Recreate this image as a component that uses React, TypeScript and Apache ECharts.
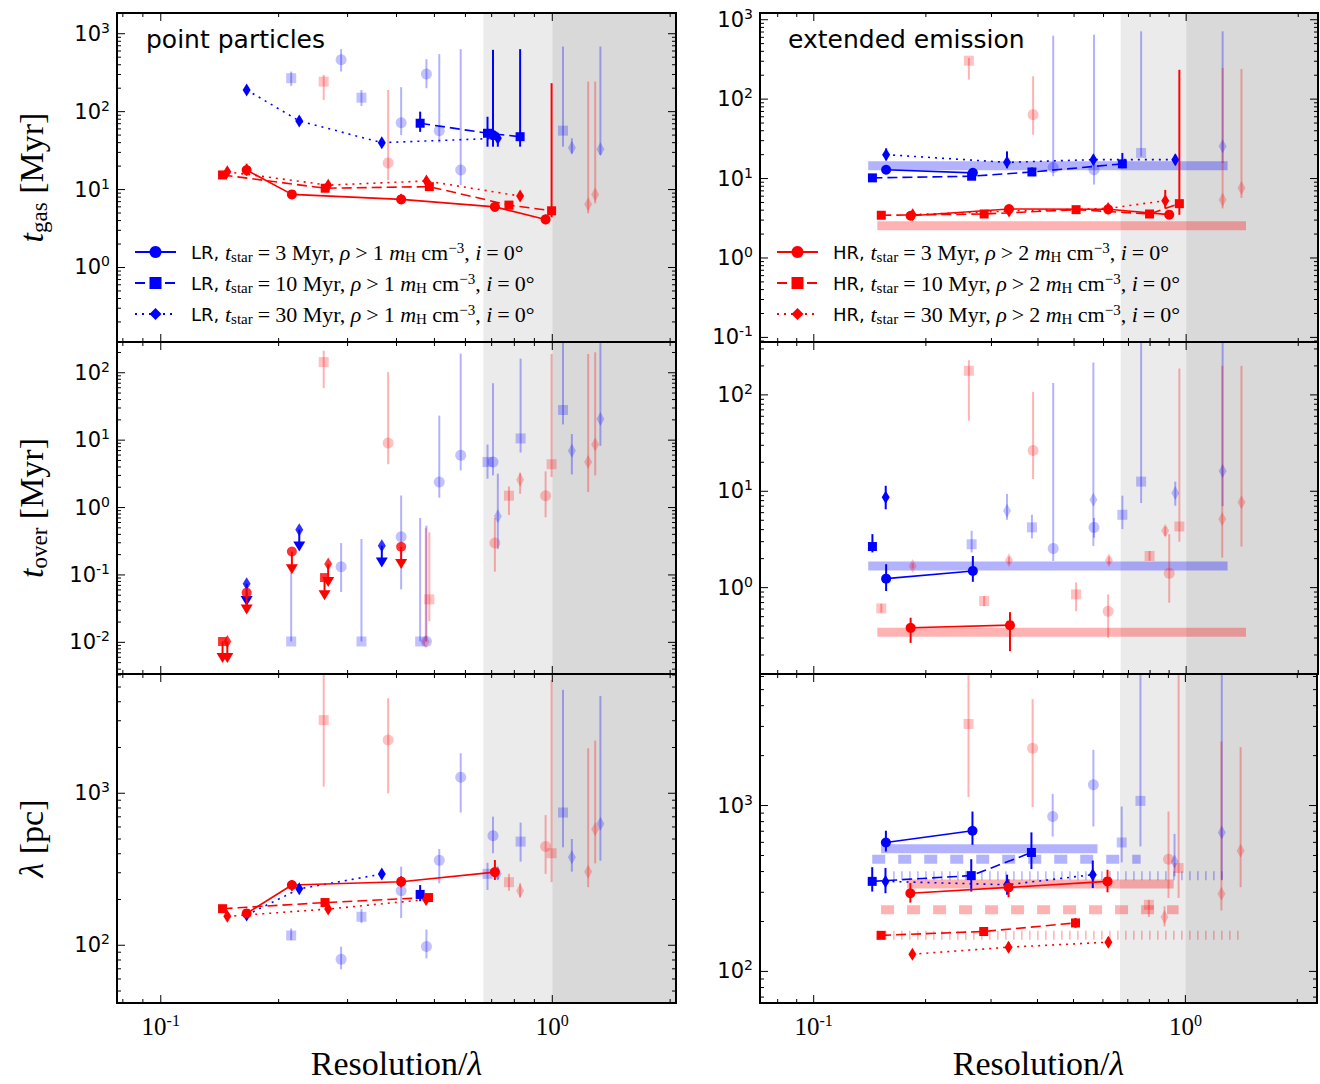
import React, { useEffect, useRef } from 'react';
import * as echarts from 'echarts';

type P = number[]; // [x, y, errLow, errHigh]

// ---------- axis ranges ----------
const X_LEFT = [0.0773, 2.07];
const X_RIGHT = [0.0717, 2.26];
const Y_GAS_PP = [0.1106, 1845];
const Y_GAS_EE = [0.0875, 1215];
const Y_OVER_PP = [0.00339, 286];
const Y_OVER_EE = [0.127, 354];
const Y_LAM_PP = [41.7, 6090];
const Y_LAM_EE = [64.5, 6210];
const SHADE_START = 0.667;
const SHADE_MID = 1.0;

// ---------- point particles : t_gas ----------
const ppGas_LR3: P[] = [[0.7055, 50, 35.5, 621]];
const ppGas_LR10: P[] = [[0.4597, 71, 55, 100], [0.6832, 52.8, 35.5, 86], [0.8276, 47.7, 35.5, 634]];
const ppGas_LR30: P[] = [[0.1657, 190, 175, 205], [0.2258, 76, 70, 83], [0.3669, 40, 37, 44], [0.7259, 45.5, 35.5, 50]];
const ppGas_HR3: P[] = [[0.1657, 17.8, 15, 21.5], [0.2162, 8.67, 7.6, 9.8], [0.4111, 7.48, 6.6, 8.8], [0.7135, 6.0, 5.2, 6.9], [0.9614, 4.14, 3.6, 4.8]];
const ppGas_HR10: P[] = [[0.1438, 15.4, 14, 16.5], [0.263, 10.4, 9.5, 11.5], [0.4852, 10.9, 10, 12], [0.775, 6.32, 5.8, 7], [0.9959, 5.34, 4.4, 232]];
const ppGas_HR30: P[] = [[0.1479, 16.9, 15.5, 18.5], [0.2677, 11.4, 10.3, 12.6], [0.477, 12.9, 11.5, 14.3], [0.8276, 8.25, 7.3, 9.3]];
const ppGasF_LR3: P[] = [[0.2888, 462, 327, 634], [0.4111, 72, 50, 206], [0.477, 305, 200, 471], [0.5144, 57, 40, 547], [0.5835, 17.8, 11.4, 634]];
const ppGasF_LR10: P[] = [[0.2153, 269, 214, 327], [0.3255, 151, 118, 190], [1.065, 57, 35.5, 685]];
const ppGasF_LR30: P[] = [[1.122, 34.5, 29, 45.5], [1.327, 32.9, 27.8, 685]];
const ppGasF_HR3: P[] = [[0.3808, 22, 13.2, 190]];
const ppGasF_HR10: P[] = [[0.2607, 243, 141, 296]];
const ppGasF_HR30: P[] = [[1.235, 6.5, 4.94, 243], [1.287, 8.67, 6.65, 243]];

// ---------- point particles : t_over ----------
// upper limits: [x, y, arrow tip]
const ppOverLim_HR3: P[] = [[0.1657, 0.0546, 0.0308], [0.2162, 0.223, 0.1216], [0.4111, 0.262, 0.145]];
const ppOverLim_HR10: P[] = [[0.1438, 0.0103, 0.00585], [0.262, 0.0914, 0.0498]];
const ppOverLim_HR30: P[] = [[0.1479, 0.0103, 0.00585], [0.2677, 0.145, 0.0787]];
const ppOverLim_LR30: P[] = [[0.1657, 0.0743, 0.041], [0.2258, 0.47, 0.265], [0.3669, 0.271, 0.153]];
const ppOverF_LR3: P[] = [[0.2888, 0.132, 0.0558, 0.297], [0.4111, 0.369, 0.0612, 1.51], [0.477, 0.0103, 0.0103, 0.539], [0.5144, 2.39, 1.4, 23.1], [0.5835, 5.97, 3.56, 192], [0.7055, 4.75, 3.0, 70]];
const ppOverF_LR10: P[] = [[0.2153, 0.0103, 0.0103, 0.108], [0.3255, 0.0103, 0.0103, 0.341], [0.4597, 0.0103, 0.0103, 0.7], [0.6832, 4.75, 2.68, 8.6], [0.83, 10.6, 6.55, 162], [1.065, 28, 17.1, 1000]];
const ppOverF_LR30: P[] = [[0.7259, 0.743, 0.242, 3.18], [1.122, 6.94, 3.1, 12.3], [1.327, 20.6, 8.25, 1000]];
const ppOverF_HR3: P[] = [[0.3808, 9.1, 4.39, 102], [0.7135, 0.297, 0.112, 0.7], [0.9614, 1.5, 0.718, 3.45]];
const ppOverF_HR10: P[] = [[0.2607, 144, 59, 213], [0.4852, 0.0434, 0.0206, 0.429], [0.775, 1.5, 0.778, 2.06], [0.9959, 4.39, 2.84, 190]];
const ppOverF_HR30: P[] = [[0.4752, 0.0103, 0.0103, 0.5], [0.8276, 2.59, 1.6, 3.3], [1.235, 4.75, 1.7, 190], [1.287, 8.6, 3.0, 201]];

// ---------- point particles : lambda ----------
const ppLam_LR10: P[] = [[0.4597, 216, 195, 249]];
const ppLam_LR30: P[] = [[0.1657, 158, 149, 168], [0.2258, 235, 220, 250], [0.3669, 294, 280, 310]];
const ppLam_HR3: P[] = [[0.1657, 162, 152, 172], [0.2162, 249, 228, 268], [0.4111, 262, 240, 285], [0.7135, 303, 269, 364]];
const ppLam_HR10: P[] = [[0.1438, 174, 165, 183], [0.2627, 191, 180, 203], [0.483, 206, 195, 218]];
const ppLam_HR30: P[] = [[0.1479, 155, 146, 164], [0.2677, 173, 163, 184], [0.476, 200, 188, 212]];
const ppLamF_LR3: P[] = [[0.2888, 81, 69.5, 98], [0.4111, 228, 151, 329], [0.477, 98, 82, 127], [0.5144, 363, 256, 430], [0.5835, 1274, 747, 1833], [0.7055, 526, 403, 702]];
const ppLamF_LR10: P[] = [[0.2153, 116, 108, 129], [0.3255, 154, 140, 173], [0.6832, 295, 231, 349], [0.83, 481, 355, 641], [1.065, 747, 441, 4790]];
const ppLamF_LR30: P[] = [[0.7259, 295, 270, 330], [1.122, 379, 305, 500], [1.327, 630, 360, 4370]];
const ppLamF_HR3: P[] = [[0.3808, 2242, 1000, 4220], [0.9614, 446, 295, 719]];
const ppLamF_HR10: P[] = [[0.2607, 3030, 1106, 8000], [0.775, 260, 228, 295], [0.9959, 403, 260, 5560]];
const ppLamF_HR30: P[] = [[0.8276, 228, 206, 256], [1.235, 305, 241, 1977], [1.287, 580, 346, 2219]];

// ---------- extended emission : t_gas ----------
const eeGas_LR3: P[] = [[0.1564, 12.9, 11.5, 14.5], [0.2674, 11.8, 10.3, 13.5]];
const eeGas_LR10: P[] = [[0.1437, 10.2, 9.4, 11.2], [0.2654, 10.7, 9.9, 11.8], [0.3853, 12.1, 10.8, 13.8], [0.674, 15.3, 13.5, 21]];
const eeGas_LR30: P[] = [[0.1564, 20, 17, 24], [0.3303, 16, 13.5, 22], [0.5634, 17.3, 15.5, 19.5], [0.935, 17.3, 15, 20]];
const eeGas_HR3: P[] = [[0.182, 3.4, 3.1, 3.75], [0.3344, 4.14, 3.8, 4.5], [0.6173, 4.1, 3.75, 4.5], [0.9007, 3.51, 3.1, 3.9]];
const eeGas_HR10: P[] = [[0.1518, 3.45, 3.2, 3.7], [0.2867, 3.58, 3.3, 3.9], [0.5063, 4.06, 3.75, 4.4], [0.7975, 3.58, 3.3, 3.9], [0.9589, 4.83, 3.5, 234]];
const eeGas_HR30: P[] = [[0.1843, 3.51, 3.25, 3.8], [0.3344, 3.9, 3.55, 4.3], [0.6173, 4.2, 3.85, 4.6], [0.8788, 5.27, 4.2, 7.2]];
const eeGasF_LR3: P[] = [[0.4395, 13.8, 10.7, 630], [0.5656, 12.9, 8.4, 649]];
const eeGasF_LR10: P[] = [[0.757, 21, 19, 714]];
const eeGasF_LR30: P[] = [[1.253, 25.5, 15.7, 714]];
const eeGasF_HR3: P[] = [[0.3881, 63.8, 35.7, 194]];
const eeGasF_HR10: P[] = [[0.2609, 305, 176, 330]];
const eeGasF_HR30: P[] = [[1.253, 5.42, 4.2, 247], [1.408, 7.61, 5.7, 240]];
// bands: [xStart, xEnd, value]
const eeGasBand_LR: P = [0.14, 1.292, 14.5];
const eeGasBand_HR: P = [0.1481, 1.448, 2.55];

// ---------- extended emission : t_over ----------
const eeOver_LR3: P[] = [[0.1564, 1.24, 0.922, 1.75], [0.2674, 1.49, 1.15, 2.13]];
const eeOver_LR10: P[] = [[0.1437, 2.67, 2.32, 3.59]];
const eeOver_LR30: P[] = [[0.156, 8.66, 6.5, 11.4]];
const eeOver_HR3: P[] = [[0.182, 0.383, 0.267, 0.487], [0.3364, 0.408, 0.219, 0.557]];
const eeOverF_LR3: P[] = [[0.4395, 2.55, 1.89, 133], [0.5656, 4.22, 3.3, 5.3]];
const eeOverF_LR10: P[] = [[0.2654, 2.82, 2.32, 3.89], [0.3853, 4.22, 3.24, 5.7], [0.674, 5.7, 4.05, 9.0], [0.757, 12.6, 7.55, 1000]];
const eeOverF_LR30: P[] = [[0.3303, 6.28, 5.06, 9.4], [0.5634, 8.18, 2.71, 217], [0.935, 9.6, 7.08, 12.6], [1.253, 16.2, 7.0, 1000]];
const eeOverF_HR3: P[] = [[0.3881, 26.5, 13.4, 107], [0.6173, 0.57, 0.301, 0.851], [0.9007, 1.41, 0.698, 3.59]];
const eeOverF_HR10: P[] = [[0.2609, 178, 54, 229], [0.1518, 0.609, 0.55, 0.68], [0.2867, 0.726, 0.64, 0.82], [0.5063, 0.851, 0.57, 1.13], [0.7975, 2.13, 1.9, 2.4], [0.9589, 4.31, 2.99, 188]];
const eeOverF_HR30: P[] = [[0.1843, 1.68, 1.58, 1.8], [0.3344, 1.92, 1.75, 2.1], [0.6205, 1.92, 1.75, 2.1], [0.8788, 3.89, 3.45, 4.3], [1.25, 5.14, 2.05, 200], [1.408, 7.67, 2.67, 200]];
const eeOverBand_LR: P = [0.14, 1.292, 1.68];
const eeOverBand_HR: P = [0.1481, 1.448, 0.345];

// ---------- extended emission : lambda ----------
const eeLam_LR3: P[] = [[0.1564, 599, 528, 705], [0.2674, 705, 580, 920]];
const eeLam_LR10: P[] = [[0.1437, 349, 303, 425], [0.2654, 378, 303, 475], [0.3853, 521, 414, 689]];
const eeLam_LR30: P[] = [[0.156, 349, 296, 420], [0.3314, 333, 290, 383], [0.5634, 383, 318, 466]];
const eeLam_HR3: P[] = [[0.182, 296, 260, 341], [0.3344, 321, 280, 360], [0.6173, 349, 300, 410]];
const eeLam_HR10: P[] = [[0.1518, 165, 158, 172], [0.2867, 174, 166, 182], [0.5063, 196, 183, 210]];
const eeLam_HR30: P[] = [[0.1843, 127, 120, 134], [0.3344, 140, 131, 150], [0.6205, 150, 140, 160]];
const eeLamF_LR3: P[] = [[0.4395, 859, 651, 1176], [0.5656, 1333, 748, 2167]];
const eeLamF_LR10: P[] = [[0.674, 599, 454, 986], [0.757, 1067, 567, 8000]];
const eeLamF_LR30: P[] = [[0.935, 460, 374, 675], [1.253, 689, 357, 8000]];
const eeLamF_HR3: P[] = [[0.3881, 2217, 977, 4376], [0.9007, 475, 277, 920]];
const eeLamF_HR10: P[] = [[0.2609, 3104, 1124, 8000], [0.7975, 252, 213, 270], [0.9589, 420, 277, 8000]];
const eeLamF_HR30: P[] = [[0.8788, 213, 187, 247], [1.25, 294, 233, 2432], [1.408, 533, 322, 2249]];
const eeLamBand_LR3: P = [0.1518, 0.58, 548];
const eeLamBand_LR10: P = [0.1437, 0.758, 475];
const eeLamBand_LR30: P = [0.1636, 1.262, 378];
const eeLamBand_HR3: P = [0.1784, 0.93, 336];
const eeLamBand_HR10: P = [0.1518, 0.9589, 235];
const eeLamBand_HR30: P = [0.1481, 1.408, 165];

// ---------- styling ----------
const BLUE = '#0000ff';
const RED = '#ff0000';
const FADE_BLUE = 'rgba(0,0,255,0.3)';
const FADE_RED = 'rgba(255,0,0,0.3)';
const SHADE_LIGHT = '#ebebeb';
const SHADE_DARK = '#d9d9d9';
const SERIF = 'Liberation Serif';
const SANS = 'DejaVu Sans';
const KEYS = ['LR3', 'LR10', 'LR30', 'HR3', 'HR10', 'HR30'];

const GRID_LEFT = [117, 760];
const GRID_WIDTH = [559, 558];
const GRID_TOP = [13, 342, 674];
const GRID_HEIGHT = [329, 332, 329];

interface PanelSpec {
  x: number[];
  y: number[];
  solid: Record<string, P[]>;
  faded: Record<string, P[]>;
  limits?: Record<string, P[]>;
  bands?: Record<string, P>;
}

const PANELS: PanelSpec[] = [
  {
    x: X_LEFT, y: Y_GAS_PP,
    solid: { LR3: ppGas_LR3, LR10: ppGas_LR10, LR30: ppGas_LR30, HR3: ppGas_HR3, HR10: ppGas_HR10, HR30: ppGas_HR30 },
    faded: { LR3: ppGasF_LR3, LR10: ppGasF_LR10, LR30: ppGasF_LR30, HR3: ppGasF_HR3, HR10: ppGasF_HR10, HR30: ppGasF_HR30 },
  },
  {
    x: X_RIGHT, y: Y_GAS_EE,
    solid: { LR3: eeGas_LR3, LR10: eeGas_LR10, LR30: eeGas_LR30, HR3: eeGas_HR3, HR10: eeGas_HR10, HR30: eeGas_HR30 },
    faded: { LR3: eeGasF_LR3, LR10: eeGasF_LR10, LR30: eeGasF_LR30, HR3: eeGasF_HR3, HR10: eeGasF_HR10, HR30: eeGasF_HR30 },
    bands: { LR3: eeGasBand_LR, HR3: eeGasBand_HR },
  },
  {
    x: X_LEFT, y: Y_OVER_PP,
    solid: {},
    faded: { LR3: ppOverF_LR3, LR10: ppOverF_LR10, LR30: ppOverF_LR30, HR3: ppOverF_HR3, HR10: ppOverF_HR10, HR30: ppOverF_HR30 },
    limits: { LR30: ppOverLim_LR30, HR3: ppOverLim_HR3, HR10: ppOverLim_HR10, HR30: ppOverLim_HR30 },
  },
  {
    x: X_RIGHT, y: Y_OVER_EE,
    solid: { LR3: eeOver_LR3, LR10: eeOver_LR10, LR30: eeOver_LR30, HR3: eeOver_HR3 },
    faded: { LR3: eeOverF_LR3, LR10: eeOverF_LR10, LR30: eeOverF_LR30, HR3: eeOverF_HR3, HR10: eeOverF_HR10, HR30: eeOverF_HR30 },
    bands: { LR3: eeOverBand_LR, HR3: eeOverBand_HR },
  },
  {
    x: X_LEFT, y: Y_LAM_PP,
    solid: { LR10: ppLam_LR10, LR30: ppLam_LR30, HR3: ppLam_HR3, HR10: ppLam_HR10, HR30: ppLam_HR30 },
    faded: { LR3: ppLamF_LR3, LR10: ppLamF_LR10, LR30: ppLamF_LR30, HR3: ppLamF_HR3, HR10: ppLamF_HR10, HR30: ppLamF_HR30 },
  },
  {
    x: X_RIGHT, y: Y_LAM_EE,
    solid: { LR3: eeLam_LR3, LR10: eeLam_LR10, LR30: eeLam_LR30, HR3: eeLam_HR3, HR10: eeLam_HR10, HR30: eeLam_HR30 },
    faded: { LR3: eeLamF_LR3, LR10: eeLamF_LR10, LR30: eeLamF_LR30, HR3: eeLamF_HR3, HR10: eeLamF_HR10, HR30: eeLamF_HR30 },
    bands: { LR3: eeLamBand_LR3, LR10: eeLamBand_LR10, LR30: eeLamBand_LR30, HR3: eeLamBand_HR3, HR10: eeLamBand_HR10, HR30: eeLamBand_HR30 },
  },
];

const isLR = (k: string) => k.startsWith('LR');
const tOf = (k: string) => k.slice(2);
const SYMBOL: Record<string, string> = { '3': 'circle', '10': 'rect', '30': 'diamond' };
const SYMSIZE: Record<string, any> = { '3': 10, '10': 9, '30': [8, 13] };
const FSYMSIZE: Record<string, any> = { '3': 11, '10': 10, '30': [8, 14] };
const LINETYPE: Record<string, any> = { '3': 'solid', '10': [10, 5], '30': [2, 5] };
const BANDTYPE: Record<string, any> = { '3': 'solid', '10': [13, 13], '30': [1.5, 6.5] };

function ticksFor(min: number, max: number) {
  const out: number[][] = [];
  for (let k = Math.floor(Math.log10(min)); k <= Math.ceil(Math.log10(max)); k++) {
    for (let m = 1; m <= 9; m++) {
      const v = m * Math.pow(10, k);
      if (v >= min && v <= max) out.push([v, m === 1 ? 2 : 1]);
    }
  }
  return out;
}

const errItem = (color: string, width: number) => (params: any, api: any) => {
  const cs = params.coordSys;
  const x = api.value(0);
  const a = api.coord([x, api.value(2)]);
  const b = api.coord([x, api.value(3)]);
  const top = Math.max(cs.y, Math.min(a[1], b[1]));
  const bot = Math.min(cs.y + cs.height, Math.max(a[1], b[1]));
  return { type: 'line', shape: { x1: a[0], y1: bot, x2: a[0], y2: top }, style: { stroke: color, lineWidth: width } };
};

const limItem = (color: string) => (params: any, api: any) => {
  const x = api.value(0);
  const p = api.coord([x, api.value(1)]);
  const t = api.coord([x, api.value(2)]);
  return {
    type: 'group',
    children: [
      { type: 'line', shape: { x1: p[0], y1: p[1], x2: t[0], y2: t[1] - 4 }, style: { stroke: color, lineWidth: 2 } },
      { type: 'polygon', shape: { points: [[t[0] - 6, t[1] - 5], [t[0] + 6, t[1] - 5], [t[0], t[1] + 5]] }, style: { fill: color } },
    ],
  };
};

const shadeItem = (yMin: number) => (params: any, api: any) => {
  const cs = params.coordSys;
  const a = api.coord([api.value(0), yMin])[0];
  const b = api.coord([api.value(1), yMin])[0];
  return {
    type: 'rect',
    shape: { x: a, y: cs.y, width: b - a, height: cs.height },
    style: { fill: api.value(2) === 1 ? SHADE_LIGHT : SHADE_DARK },
  };
};

const xTickItem = (yMin: number) => (params: any, api: any) => {
  const cs = params.coordSys;
  const len = api.value(1) === 2 ? 8 : 4;
  const px = api.coord([api.value(0), yMin])[0];
  return {
    type: 'group',
    children: [
      { type: 'line', shape: { x1: px, y1: cs.y + cs.height, x2: px, y2: cs.y + cs.height - len }, style: { stroke: '#000', lineWidth: 1 } },
      { type: 'line', shape: { x1: px, y1: cs.y, x2: px, y2: cs.y + len }, style: { stroke: '#000', lineWidth: 1 } },
    ],
  };
};

const yTickItem = (xMin: number) => (params: any, api: any) => {
  const cs = params.coordSys;
  const len = api.value(2) === 2 ? 8 : 4;
  const py = api.coord([xMin, api.value(1)])[1];
  return {
    type: 'group',
    children: [
      { type: 'line', shape: { x1: cs.x, y1: py, x2: cs.x + len, y2: py }, style: { stroke: '#000', lineWidth: 1 } },
      { type: 'line', shape: { x1: cs.x + cs.width, y1: py, x2: cs.x + cs.width - len, y2: py }, style: { stroke: '#000', lineWidth: 1 } },
    ],
  };
};

const frameItem = (params: any) => {
  const cs = params.coordSys;
  return { type: 'rect', shape: { x: cs.x, y: cs.y, width: cs.width, height: cs.height }, style: { fill: 'none', stroke: '#000', lineWidth: 2 } };
};

function panelSeries(pi: number, spec: PanelSpec) {
  const s: any[] = [];
  const base = { xAxisIndex: pi, yAxisIndex: pi, silent: true, animation: false };
  const [xMin, xMax] = spec.x;
  const [yMin, yMax] = spec.y;
  s.push({ ...base, type: 'custom', name: `shade${pi}`, z: 1, renderItem: shadeItem(yMin), data: [[SHADE_START, SHADE_MID, 1], [SHADE_MID, xMax, 2]] });
  for (const k of KEYS) {
    const b = spec.bands && spec.bands[k];
    if (!b) continue;
    s.push({
      ...base, type: 'line', name: `band${pi}${k}`, z: 2, symbol: 'none',
      data: [[b[0], b[2]], [b[1], b[2]]],
      lineStyle: { color: isLR(k) ? FADE_BLUE : FADE_RED, width: 9, type: BANDTYPE[tOf(k)], cap: 'butt' },
    });
  }
  for (const k of KEYS) {
    const pts = spec.faded[k];
    if (!pts) continue;
    const c = isLR(k) ? FADE_BLUE : FADE_RED;
    s.push({ ...base, type: 'custom', name: `ferr${pi}${k}`, z: 3, renderItem: errItem(c, 2), data: pts });
    s.push({
      ...base, type: 'scatter', name: `fpt${pi}${k}`, z: 3,
      symbol: SYMBOL[tOf(k)], symbolSize: FSYMSIZE[tOf(k)],
      itemStyle: { color: c },
      data: pts.map((p) => [p[0], p[1]]),
    });
  }
  for (const k of KEYS) {
    const pts = spec.solid[k];
    if (!pts) continue;
    const c = isLR(k) ? BLUE : RED;
    const legendName = (pi === 0 && isLR(k)) || (pi === 1 && !isLR(k)) ? k : `s${pi}${k}`;
    s.push({ ...base, type: 'custom', name: `serr${pi}${k}`, z: 4, renderItem: errItem(c, 2), data: pts });
    s.push({
      ...base, type: 'line', name: legendName, z: 5,
      symbol: SYMBOL[tOf(k)], symbolSize: SYMSIZE[tOf(k)], showSymbol: true,
      itemStyle: { color: c },
      lineStyle: { color: c, width: 1.6, type: LINETYPE[tOf(k)] },
      data: pts.map((p) => [p[0], p[1]]),
    });
  }
  if (spec.limits) {
    for (const k of KEYS) {
      const pts = spec.limits[k];
      if (!pts) continue;
      const c = isLR(k) ? BLUE : RED;
      s.push({ ...base, type: 'custom', name: `lim${pi}${k}`, z: 4, renderItem: limItem(c), data: pts });
      s.push({
        ...base, type: 'scatter', name: `limpt${pi}${k}`, z: 5,
        symbol: SYMBOL[tOf(k)], symbolSize: SYMSIZE[tOf(k)],
        itemStyle: { color: c },
        data: pts.map((p) => [p[0], p[1]]),
      });
    }
  }
  s.push({ ...base, type: 'custom', name: `xt${pi}`, z: 10, renderItem: xTickItem(yMin), data: ticksFor(xMin, xMax) });
  s.push({ ...base, type: 'custom', name: `yt${pi}`, z: 10, renderItem: yTickItem(xMin), data: ticksFor(yMin, yMax).map((t) => [xMin, t[0], t[1]]) });
  s.push({ ...base, type: 'custom', name: `fr${pi}`, z: 11, renderItem: frameItem, data: [[xMin, yMin]] });
  return s;
}

const powLabel = (v: number) => {
  const e = Math.log10(v);
  const r = Math.round(e);
  if (Math.abs(e - r) > 1e-6) return '';
  return `{b|10}{s|${r}}`;
};

const Y_NAMES = ['{it|t}{sub|gas}{rm| [Myr]}', '{it|t}{sub|over}{rm| [Myr]}', '{it|λ}{rm| [pc]}'];

const nameRich = {
  it: { fontFamily: SERIF, fontStyle: 'italic', fontSize: 34, lineHeight: 40, color: '#000' },
  rm: { fontFamily: SERIF, fontSize: 34, lineHeight: 40, color: '#000' },
  sub: { fontFamily: SERIF, fontSize: 23, lineHeight: 24, verticalAlign: 'bottom', color: '#000' },
};

function legendText(name: string) {
  const run = name.slice(0, 2);
  const t = name.slice(2);
  const rho = run === 'LR' ? '1' : '2';
  return `{sans|${run}, }{it|t}{sub|star}{rel|=}{rm|${t} Myr, }{it|ρ}{rel|>}{rm|${rho} }{it|m}{sub|H}{rm| cm}{sup|−3}{rm|, }{it|i}{rel|=}{rm|0°}`;
}

const legendRich = {
  sans: { fontFamily: SANS, fontSize: 18, lineHeight: 24, padding: [0, 0, 0, 10], color: '#000' },
  rm: { fontFamily: SERIF, fontSize: 22, lineHeight: 24, color: '#000' },
  rel: { fontFamily: SERIF, fontSize: 22, lineHeight: 24, padding: [0, 5, 0, 5], color: '#000' },
  it: { fontFamily: SERIF, fontSize: 22, fontStyle: 'italic', lineHeight: 24, color: '#000' },
  sub: { fontFamily: SERIF, fontSize: 15, lineHeight: 14, verticalAlign: 'bottom', color: '#000' },
  sup: { fontFamily: SERIF, fontSize: 15, lineHeight: 14, verticalAlign: 'top', color: '#000' },
};

function buildOption() {
  const grid: any[] = [];
  const xAxis: any[] = [];
  const yAxis: any[] = [];
  let series: any[] = [];
  PANELS.forEach((spec, pi) => {
    const col = pi % 2;
    const row = Math.floor(pi / 2);
    grid.push({ left: GRID_LEFT[col], top: GRID_TOP[row], width: GRID_WIDTH[col], height: GRID_HEIGHT[row] });
    const bottom = row === 2;
    xAxis.push({
      type: 'log', logBase: 10, gridIndex: pi, min: spec.x[0], max: spec.x[1],
      axisLine: { show: false }, axisTick: { show: false }, splitLine: { show: false },
      axisLabel: bottom
        ? {
            show: true, margin: 9, formatter: powLabel, color: '#000',
            rich: {
              b: { fontFamily: SERIF, fontSize: 25, lineHeight: 28, color: '#000' },
              s: { fontFamily: SERIF, fontSize: 16, lineHeight: 16, verticalAlign: 'top', color: '#000' },
            },
          }
        : { show: false },
      name: bottom ? '{rm|Resolution/}{it|λ}' : '',
      nameLocation: 'middle', nameGap: 40,
      nameTextStyle: { rich: nameRich },
    });
    yAxis.push({
      type: 'log', logBase: 10, gridIndex: pi, min: spec.y[0], max: spec.y[1],
      axisLine: { show: false }, axisTick: { show: false }, splitLine: { show: false },
      axisLabel: {
        show: true, margin: 7, formatter: powLabel, color: '#000',
        rich: {
          b: { fontFamily: SANS, fontSize: 21, lineHeight: 26, color: '#000' },
          s: { fontFamily: SANS, fontSize: 14, lineHeight: 14, verticalAlign: 'top', color: '#000' },
        },
      },
      name: col === 0 ? Y_NAMES[row] : '',
      nameLocation: 'middle', nameRotate: 90, nameGap: 66,
      nameTextStyle: { rich: nameRich },
    });
    series = series.concat(panelSeries(pi, spec));
  });

  const legendBase = {
    orient: 'vertical', padding: 0, itemWidth: 41, itemHeight: 15, itemGap: 7,
    selectedMode: false, formatter: legendText,
    textStyle: { rich: legendRich, color: '#000' },
  };

  return {
    animation: false,
    backgroundColor: '#fff',
    textStyle: { fontFamily: SANS },
    grid, xAxis, yAxis, series,
    legend: [
      { ...legendBase, left: 134, top: 240, data: ['LR3', 'LR10', 'LR30'] },
      { ...legendBase, left: 776, top: 240, data: ['HR3', 'HR10', 'HR30'] },
    ],
    graphic: [
      { type: 'text', left: 146, top: 27, z: 20, style: { text: 'point particles', font: `25px "${SANS}"`, fill: '#000' } },
      { type: 'text', left: 788, top: 27, z: 20, style: { text: 'extended emission', font: `25px "${SANS}"`, fill: '#000' } },
    ],
  };
}

export default function App() {
  const ref = useRef<HTMLDivElement>(null);
  useEffect(() => {
    const chart = echarts.init(ref.current as HTMLDivElement, null, { renderer: 'svg' });
    chart.setOption(buildOption() as any);
    return () => chart.dispose();
  }, []);
  return <div ref={ref} style={{ position: 'fixed', left: 0, top: 0, width: 1320, height: 1084, background: '#fff' }} />;
}
